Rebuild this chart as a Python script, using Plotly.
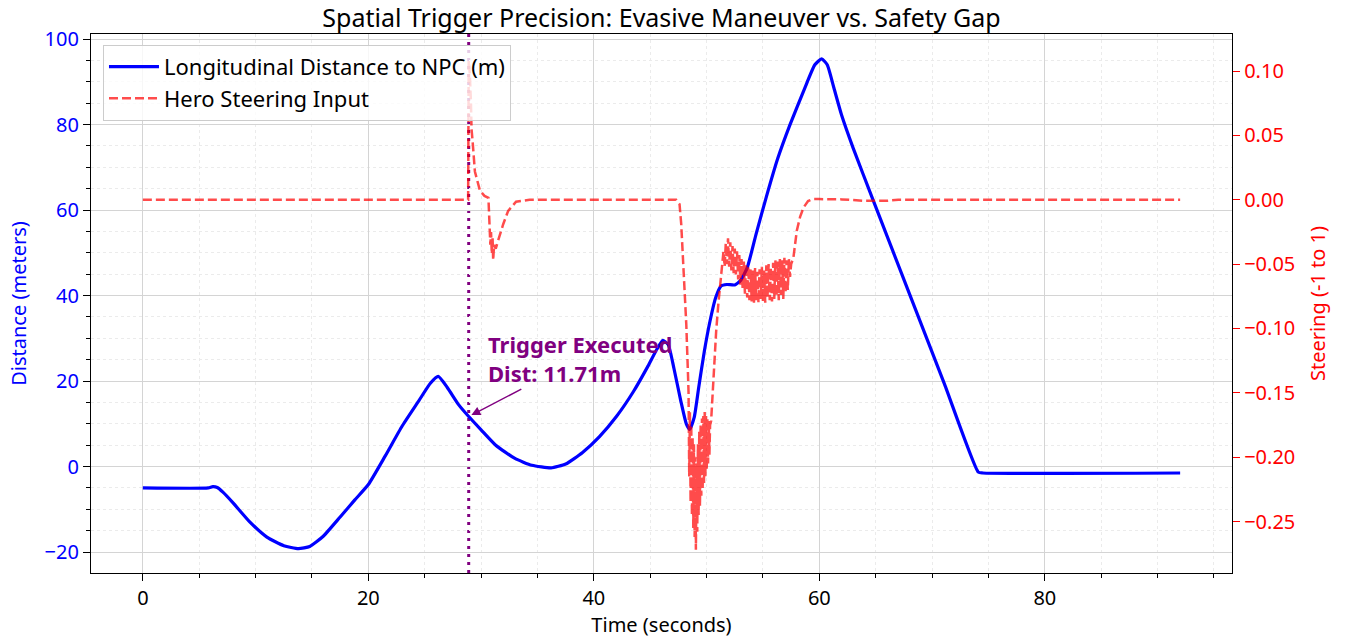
import plotly.graph_objects as go

# ---- data ----
dist_t = [0.0, 5.8, 6.2, 6.6, 7.1, 8.0, 9.5, 11.0, 12.5, 13.8, 14.8, 16.0, 17.5,
          18.8, 20.0, 21.5, 23.0, 24.5, 25.5, 26.2, 27.0, 28.0, 28.9, 30.0, 31.3, 33.0,
          34.5, 36.2, 37.5, 39.0, 40.5, 42.0, 43.5, 44.8, 45.6, 46.1, 46.6, 47.1, 47.7,
          48.2, 48.5, 48.9, 49.3, 49.8, 50.3, 50.8, 51.3, 51.8, 52.5, 53.0, 53.6, 54.4,
          55.3, 56.3, 57.4, 58.7, 59.6, 60.2, 60.7, 61.3, 62.0, 63.0, 64.7, 68.2, 71.1,
          74.1, 74.5, 92.0]
dist_m = [-5.0, -5.0, -4.7, -4.9, -6.0, -8.5, -13.0, -16.5, -18.5, -19.2, -18.7,
          -16.3, -11.8, -7.8, -4.2, 2.5, 9.5, 15.5, 19.5, 21.1, 18.5, 14.5, 11.71, 8.6,
          5.0, 1.9, 0.3, -0.3, 0.6, 3.3, 7.0, 11.7, 17.5, 23.5, 27.5, 29.5, 28.5, 23.0,
          15.5, 10.0, 8.7, 11.5, 18.5, 27.0, 34.0, 39.5, 42.3, 42.6, 42.5, 43.5, 46.5,
          54.5, 63.1, 72.0, 80.0, 88.5, 94.0, 95.4, 94.0, 88.5, 82.0, 74.5, 62.8, 39.0,
          19.3, -1.3, -1.5, -1.5]

steer_t = [0.0, 28.85, 28.9, 29.0, 29.1, 29.15, 29.25, 29.45, 29.9, 30.3, 30.65, 30.75,
           30.82, 30.88, 30.95, 31.02, 31.07, 31.15, 31.3, 31.5, 31.96, 32.4, 33.1, 34.3,
           47.3, 47.6, 47.75, 47.9, 48.05, 48.2, 48.35,
           48.40, 48.46, 48.52, 48.58, 48.64, 48.70, 48.76, 48.82, 48.88, 48.94, 49.00,
           49.05, 49.11, 49.17, 49.23, 49.29, 49.35, 49.41, 49.47, 49.53, 49.59, 49.65,
           49.71, 49.77, 49.83, 49.89, 49.95, 50.01, 50.07, 50.13, 50.19, 50.25, 50.31,
           50.40, 50.6, 50.85, 51.05, 51.2,
           51.4, 51.5, 51.6, 51.7, 51.8, 51.9, 52.0, 52.1, 52.2, 52.3, 52.4, 52.5, 52.6,
           52.7, 52.8, 52.9, 53.0, 53.1, 53.2, 53.3, 53.4, 53.5, 53.6, 53.7, 53.8, 53.9,
           54.0, 54.1, 54.2, 54.3, 54.4, 54.5, 54.6, 54.7, 54.8, 54.9, 55.0, 55.1, 55.2,
           55.3, 55.4, 55.5, 55.6, 55.7, 55.8, 55.9, 56.0, 56.1, 56.2, 56.3, 56.4, 56.5,
           56.6, 56.7, 56.8, 56.9, 57.0, 57.1, 57.2, 57.3, 57.4, 57.5, 57.7,
           58.0, 58.3, 58.6, 59.0, 59.4, 60.0, 62.0, 64.0, 66.0, 67.0, 92.0]
steer_v = [0.0, 0.0, 0.108, 0.098, 0.075, 0.055, 0.045, 0.022, 0.007, 0.003, 0.0015, -0.02,
           -0.035, -0.025, -0.042, -0.03, -0.047, -0.035, -0.038, -0.032, -0.019, -0.0086,
           -0.0015, 0.0,
           0.0, -0.0034, -0.019, -0.045, -0.071, -0.097, -0.136,
           -0.150, -0.215, -0.165, -0.235, -0.175, -0.245, -0.185, -0.255, -0.190, -0.262,
           -0.200, -0.272, -0.205, -0.258, -0.190, -0.245, -0.180, -0.238, -0.175, -0.230,
           -0.170, -0.225, -0.168, -0.220, -0.165, -0.215, -0.168, -0.210, -0.170, -0.205,
           -0.172, -0.198, -0.175, -0.172, -0.140, -0.102, -0.080, -0.066,
           -0.050, -0.040, -0.052, -0.034, -0.050, -0.030, -0.052, -0.033, -0.055, -0.036,
           -0.057, -0.038, -0.058, -0.040, -0.062, -0.043, -0.066, -0.046, -0.070, -0.048,
           -0.073, -0.050, -0.076, -0.052, -0.078, -0.054, -0.079, -0.055, -0.080, -0.053,
           -0.078, -0.056, -0.080, -0.054, -0.077, -0.052, -0.079, -0.055, -0.080, -0.051,
           -0.076, -0.050, -0.078, -0.053, -0.079, -0.049, -0.077, -0.047, -0.075, -0.048,
           -0.078, -0.046, -0.074, -0.047, -0.077, -0.045, -0.072, -0.047, -0.070, -0.046,
           -0.060, -0.050, -0.045,
           -0.024, -0.013, -0.006, -0.001, 0.0005, 0.0005, 0.0003, -0.0008, -0.0008, 0.0, 0.0]

trigger_time = 28.9
trigger_dist = 11.71
label_time, label_dist = 30.4, 25.3
arrow_tail_time, arrow_tail_dist = 33.7, 18.3

FONT = "Noto Sans"

fig = go.Figure()
fig.add_trace(go.Scatter(
    x=dist_t, y=dist_m, mode="lines", name="Longitudinal Distance to NPC (m)",
    line=dict(color="#0000ff", width=3.2, shape="spline", smoothing=0.5),
    hoverinfo="skip"))
fig.add_trace(go.Scatter(
    x=steer_t, y=steer_v, mode="lines", name="Hero Steering Input", yaxis="y2",
    line=dict(color="red", width=2.5, dash="9px,4px"), opacity=0.7,
    hoverinfo="skip"))

fig.add_shape(type="line", xref="x", yref="paper", x0=trigger_time, x1=trigger_time,
              y0=0, y1=1, line=dict(color="purple", width=3, dash="3px,5px"), layer="below")

fig.add_annotation(x=trigger_time, y=trigger_dist, xref="x", yref="y",
                   ax=arrow_tail_time, ay=arrow_tail_dist, axref="x", ayref="y",
                   text="", showarrow=True, arrowhead=2, arrowsize=1.2, arrowwidth=1.5,
                   arrowcolor="purple", standoff=3)
fig.add_annotation(x=label_time, y=label_dist, xref="x", yref="y",
                   text="<b>Trigger Executed<br>Dist: 11.71m</b>", showarrow=False,
                   xanchor="left", yanchor="middle", align="left",
                   font=dict(family=FONT, size=22, color="purple"))

grid_major = "#d4d4d4"
grid_minor = "#ebebeb"

fig.update_layout(
    width=1349, height=643, autosize=False,
    margin=dict(l=91, r=117, t=34, b=70),
    paper_bgcolor="white", plot_bgcolor="white",
    font=dict(family=FONT, size=20, color="black"),
    title=dict(text="Spatial Trigger Precision: Evasive Maneuver vs. Safety Gap",
               x=0.5, xref="paper", y=1 - 18 / 643, yref="container", yanchor="middle",
               xanchor="center", font=dict(family=FONT, size=25, color="black")),
    showlegend=True,
    legend=dict(x=0.0105, y=0.98, xanchor="left", yanchor="top", itemwidth=50,
                bgcolor="rgba(255,255,255,0.8)", bordercolor="#cccccc", borderwidth=1,
                font=dict(family=FONT, size=22, color="black")),
    xaxis=dict(range=[-4.6, 96.6], tick0=0, dtick=20, ticks="outside", ticklen=7,
               tickwidth=1.2, tickcolor="black", showline=True, linecolor="black",
               linewidth=1.3, mirror=True, showgrid=True, gridcolor=grid_major,
               gridwidth=1, zeroline=False,
               tickfont=dict(size=20, color="black"),
               title=dict(text="Time (seconds)", font=dict(size=20, color="black"),
                          standoff=6),
               minor=dict(tick0=0, dtick=5, ticks="outside", ticklen=4, tickcolor="black",
                          tickwidth=1, showgrid=True, gridcolor=grid_minor,
                          griddash="dot", gridwidth=1)),
    yaxis=dict(range=[-24.9, 101.2], tick0=0, dtick=20, ticks="outside", ticklen=7,
               tickwidth=1.2, tickcolor="black", showline=True, linecolor="black",
               linewidth=1.3, showgrid=True, gridcolor=grid_major, gridwidth=1,
               zeroline=False, tickfont=dict(size=20, color="blue"),
               title=dict(text="Distance (meters)", font=dict(size=20, color="blue"),
                          standoff=12),
               minor=dict(tick0=0, dtick=5, ticks="outside", ticklen=4, tickcolor="black",
                          tickwidth=1, showgrid=True, gridcolor=grid_minor,
                          griddash="dot", gridwidth=1)),
    yaxis2=dict(range=[-0.290, 0.1288], overlaying="y", side="right", tick0=0,
                dtick=0.05, tickformat=".2f", ticks="outside", ticklen=7, tickwidth=1.2,
                tickcolor="red", showline=True, linecolor="black", linewidth=1.3,
                showgrid=False, zeroline=False, tickfont=dict(size=20, color="red"),
                title=dict(text="Steering (-1 to 1)", font=dict(size=20, color="red"),
                           standoff=16)),
)

fig.write_html("out.html")
